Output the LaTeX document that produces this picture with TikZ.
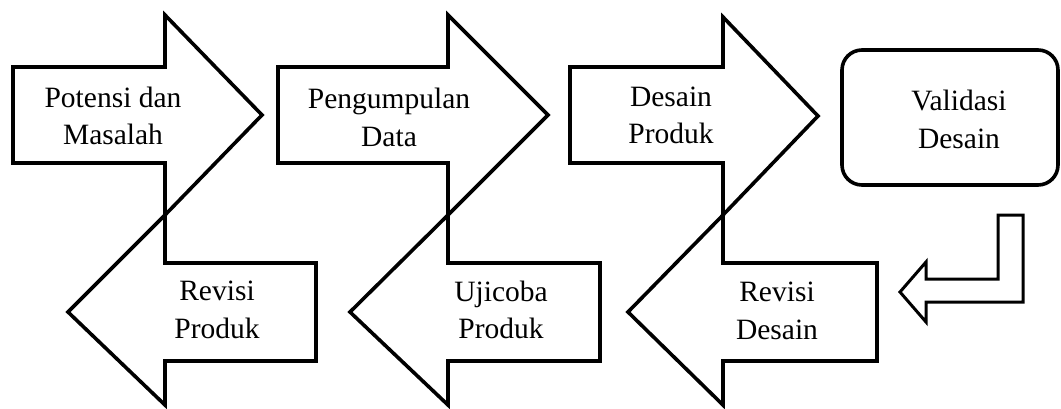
\documentclass[tikz,border=0pt]{standalone}
\usepackage{fontspec}
\setmainfont{Liberation Serif}
\begin{document}
\begin{tikzpicture}[x=1pt,y=-1pt,
  shapeline/.style={draw=black,line width=3.6pt,line join=miter,miter limit=10},
  lbl/.style={font=\fontsize{29.5}{37.5}\selectfont,align=center,inner sep=0pt,anchor=center}]
\useasboundingbox (0,0) rectangle (1061,408);
% upper right-pointing arrows
\draw[shapeline] (13,67) -- (165,67) -- (165,15) -- (262,115) -- (165,215) -- (165,163) -- (13,163) -- cycle;
\draw[shapeline] (278,67) -- (448,67) -- (448,15) -- (548,115) -- (448,215) -- (448,163) -- (278,163) -- cycle;
\draw[shapeline] (570,67) -- (723,67) -- (723,17) -- (818,116) -- (723,215) -- (723,163) -- (570,163) -- cycle;
% lower left-pointing arrows
\draw[shapeline] (316,263) -- (165,263) -- (165,215) -- (68,312) -- (165,405) -- (165,361) -- (316,361) -- cycle;
\draw[shapeline] (600,263) -- (448,263) -- (448,215) -- (350,312) -- (448,405) -- (448,361) -- (600,361) -- cycle;
\draw[shapeline] (877,263) -- (723,263) -- (723,215) -- (628,312) -- (723,405) -- (723,361) -- (877,361) -- cycle;
% rounded box
\draw[shapeline,rounded corners=20pt] (842,50) rectangle (1058,185);
% bent arrow
\draw[line width=3pt,line join=miter] (998,215) -- (1023,215) -- (1023,302) -- (926,302) -- (926,322) -- (900,292) -- (926,262) -- (926,279) -- (998,279) -- cycle;
% labels
\node[lbl] (t1) at (113,116) {Potensi dan\\Masalah};
\node[lbl] (t2) at (389,117.5) {Pengumpulan\\Data};
\node[lbl] (t3) at (671,115.5) {Desain\\Produk};
\node[lbl] (t4) at (959,119.5) {Validasi\\Desain};
\node[lbl] (t5) at (217,310) {Revisi\\Produk};
\node[lbl] (t6) at (501,310) {Ujicoba\\Produk};
\node[lbl] (t7) at (777,311) {Revisi\\Desain};
\end{tikzpicture}
\end{document}
